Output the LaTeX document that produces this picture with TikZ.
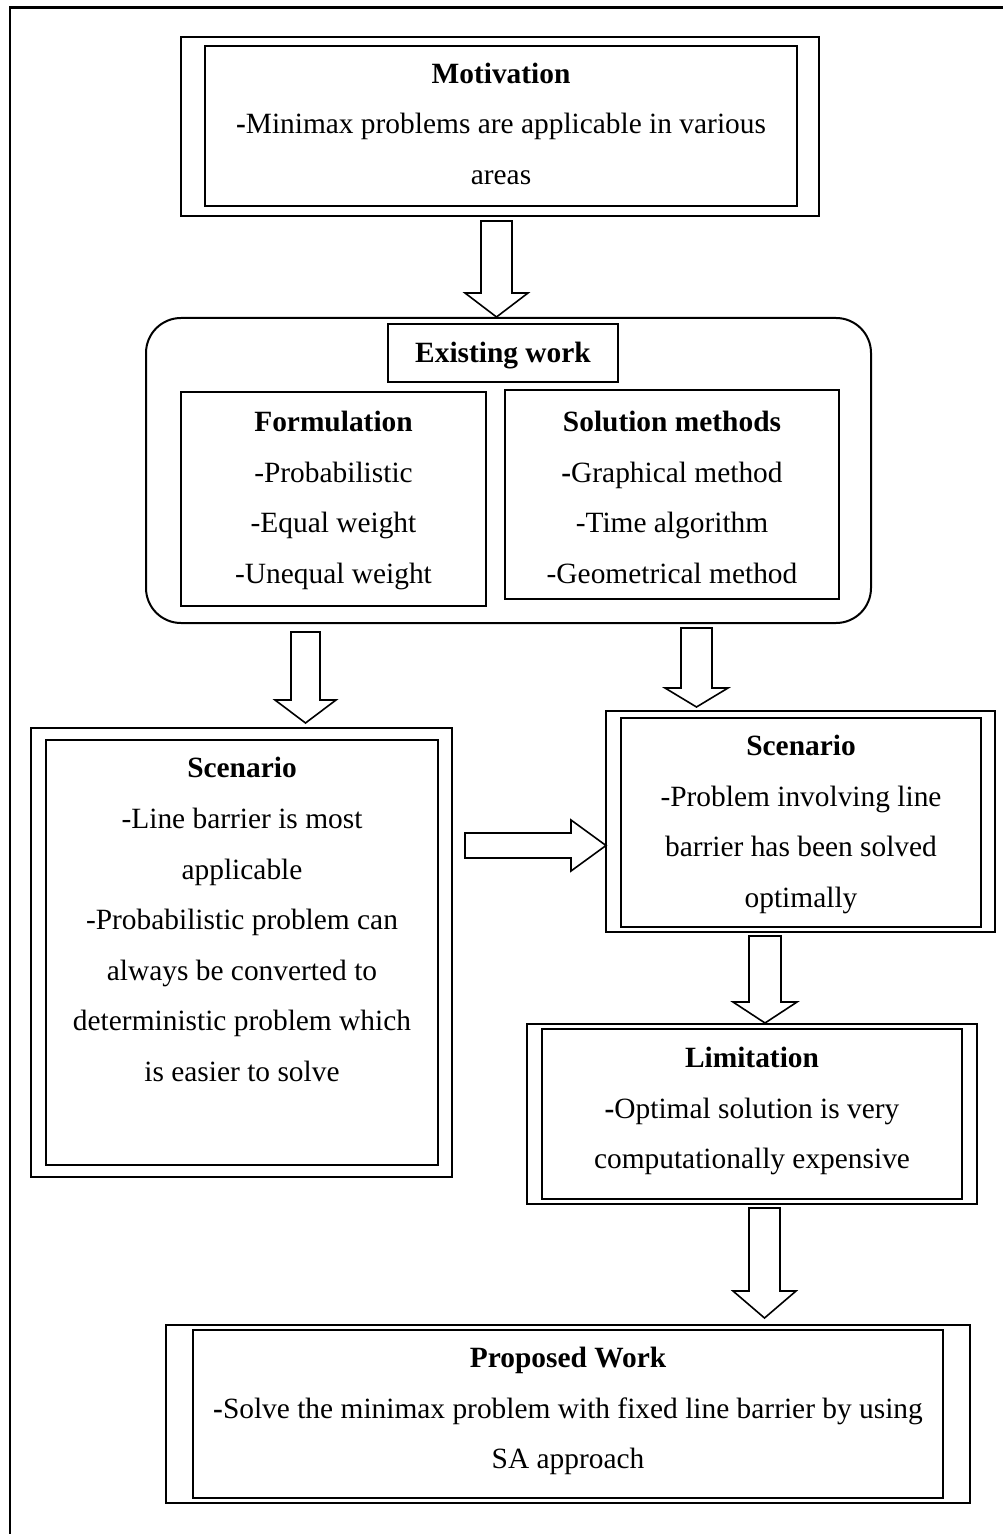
\documentclass[tikz,border=0pt]{standalone}
\usepackage{fontspec}
\setmainfont{Liberation Serif}
\usetikzlibrary{fit}
\newcommand{\tstrut}{\rule{0pt}{14pt}}
\begin{document}
\begin{tikzpicture}[x=0.5pt,y=-0.5pt,
  box/.style={draw, line width=1pt, inner sep=0pt},
  txt/.style={inner sep=0pt, anchor=north, align=center, font=\fontsize{14.7}{25.3}\selectfont},
  blockarr/.style={draw, line width=0.8pt, fill=white, line join=miter}]
\useasboundingbox (0,0) rectangle (1003,1534);
% page frame
\draw[line width=1.2pt] (10,1534) -- (10,7.5) -- (1003,7.5);

% Motivation
\node[box, fit={(181,37) (819,216)}] (motO) {};
\node[box, fit={(205,46) (797,206)}] (motI) {};
\node[txt] (motT) at (501,55) {\tstrut\textbf{Motivation}\\\textbf{-}Minimax problems are applicable in various\\areas};

% Existing work
\node[box, rounded corners=17.5pt, fit={(146,318) (871,623)}] (exist) {};
\node[box, fit={(388,324) (618,382)}] (existH) {};
\node[txt] (existT) at (503,334) {\tstrut\textbf{Existing work}};
\node[box, fit={(181,392) (486,606)}] (form) {};
\node[txt] (formT) at (333.5,403) {\tstrut\textbf{Formulation}\\-Probabilistic\\-Equal weight\\-Unequal weight};
\node[box, fit={(505,390) (839,599)}] (sol) {};
\node[txt] (solT) at (672,403) {\tstrut\textbf{Solution methods}\\\textbf{-}Graphical method\\-Time algorithm\\-Geometrical method};

% Left scenario
\node[box, fit={(31,728) (452,1177)}] (lsO) {};
\node[box, fit={(46,740) (438,1165)}] (lsI) {};
\node[txt] (lsT) at (242,749.5) {\tstrut\textbf{Scenario}\\-Line barrier is most\\applicable\\-Probabilistic problem can\\always be converted to\\deterministic problem which\\is easier to solve};

% Right scenario
\node[box, fit={(606,711) (995,932)}] (rsO) {};
\node[box, fit={(621,718) (981,927)}] (rsI) {};
\node[txt] (rsT) at (801,727) {\tstrut\textbf{Scenario}\\-Problem involving line\\barrier has been solved\\optimally};

% Limitation
\node[box, fit={(527,1024) (977,1204)}] (limO) {};
\node[box, fit={(542,1028.5) (962,1199)}] (limI) {};
\node[txt] (limT) at (752,1039) {\tstrut\textbf{Limitation}\\\textbf{-}Optimal solution is very\\computationally expensive};

% Proposed work
\node[box, fit={(166,1325) (970,1503)}] (propO) {};
\node[box, fit={(193,1330) (943,1498)}] (propI) {};
\node[txt] (propT) at (568,1339) {\tstrut\textbf{Proposed Work}\\\textbf{-}Solve the minimax problem with fixed line barrier by using\\SA approach};

% block arrows
\draw[blockarr] (481,221) -- (512,221) -- (512,293) -- (528,293) -- (496.5,317) -- (465,293) -- (481,293) -- cycle;
\draw[blockarr] (291,632) -- (320,632) -- (320,700) -- (336,700) -- (305.5,723) -- (275,700) -- (291,700) -- cycle;
\draw[blockarr] (681,628) -- (712,628) -- (712,688) -- (728,688) -- (696.5,707) -- (665,688) -- (681,688) -- cycle;
\draw[blockarr] (465,833) -- (571,833) -- (571,820) -- (606,845.5) -- (571,871) -- (571,858) -- (465,858) -- cycle;
\draw[blockarr] (749,936) -- (781,936) -- (781,1002) -- (797,1002) -- (765,1023) -- (733,1002) -- (749,1002) -- cycle;
\draw[blockarr] (749,1208) -- (780,1208) -- (780,1291) -- (796,1291) -- (764.5,1318) -- (733,1291) -- (749,1291) -- cycle;
\end{tikzpicture}
\end{document}
